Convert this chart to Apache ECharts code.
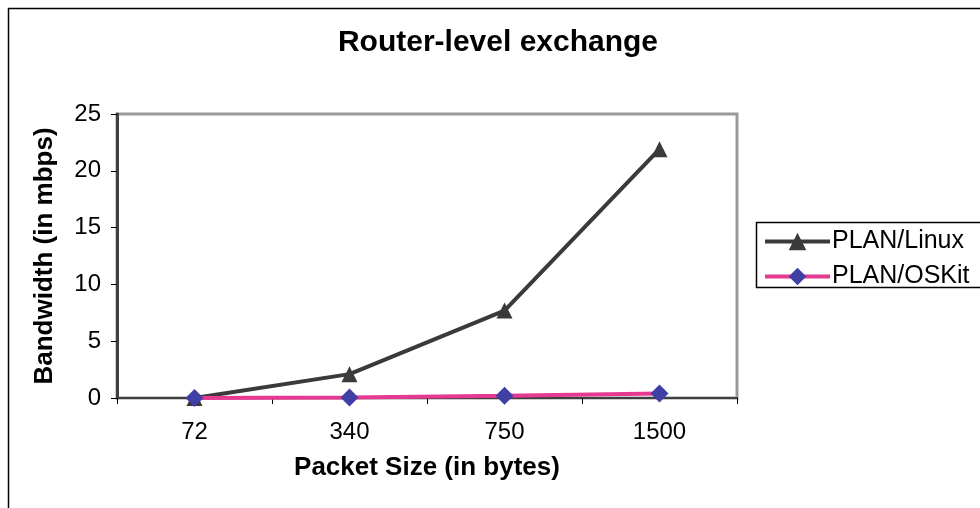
<!DOCTYPE html>
<html>
<head>
<meta charset="utf-8">
<script src="https://cdn.jsdelivr.net/npm/echarts@6/dist/echarts.min.js"></script>
<style>
  html, body { margin: 0; padding: 0; background: #fff; }
  #chart { width: 980px; height: 508px; }
</style>
</head>
<body>
<div id="chart"></div>
<script>
// Packet sizes (bytes) on the category axis
const packetSizes = ['72', '340', '750', '1500'];
// Measured bandwidth in mbps
const linuxBandwidth = [0, 2.1, 7.7, 21.9];
const oskitBandwidth = [0, 0.05, 0.2, 0.4];
// Value axis ticks
const yMin = 0, yMax = 25, yStep = 5;

const FONT = '"Liberation Sans", Arial, sans-serif';
const chart = echarts.init(document.getElementById('chart'), null, { renderer: 'canvas' });

chart.setOption({
  backgroundColor: '#fff',
  animation: false,
  title: {
    text: 'Router-level exchange',
    left: 493, top: 23, textAlign: 'center',
    textStyle: { fontFamily: FONT, fontSize: 30, fontWeight: 'bold', color: '#000' }
  },
  graphic: [
    { type: 'rect', shape: { x: 8.5, y: 8.5, width: 1000, height: 1000 },
      style: { fill: 'none', stroke: '#000', lineWidth: 1.5 }, z: 0 },
    { type: 'rect', shape: { x: 756.5, y: 222.5, width: 300, height: 65 },
      style: { fill: '#fff', stroke: '#000', lineWidth: 1.5 }, z: 1 }
  ],
  legend: {
    orient: 'vertical',
    left: 763, top: 229,
    padding: 0,
    itemWidth: 65, itemHeight: 22, itemGap: 10,
    z: 5,
    lineStyle: { width: 4 },
    textStyle: { fontFamily: FONT, fontSize: 25, color: '#000', padding: [0, 0, 0, -3] },
    data: ['PLAN/Linux', 'PLAN/OSKit']
  },
  grid: {
    left: 117, top: 114, right: 243, bottom: 110,
    show: true, borderColor: '#999', borderWidth: 3, backgroundColor: '#fff'
  },
  xAxis: {
    type: 'category',
    data: packetSizes,
    boundaryGap: true,
    name: 'Packet Size (in bytes)',
    nameLocation: 'middle', nameGap: 57,
    nameTextStyle: { fontFamily: FONT, fontSize: 26, fontWeight: 'bold', color: '#000' },
    axisLine: { lineStyle: { color: '#404040', width: 2 } },
    axisTick: { show: true, length: 6, lineStyle: { color: '#000', width: 1 } },
    axisLabel: { fontFamily: FONT, fontSize: 24, color: '#000', margin: 22 },
    splitLine: { show: false }
  },
  yAxis: {
    type: 'value',
    min: yMin, max: yMax, interval: yStep,
    name: 'Bandwidth (in mbps)',
    nameLocation: 'middle', nameGap: 59,
    nameTextStyle: { fontFamily: FONT, fontSize: 26, fontWeight: 'bold', color: '#000' },
    axisLine: { show: true, lineStyle: { color: '#404040', width: 3 } },
    axisTick: { show: true, length: 6, lineStyle: { color: '#000', width: 1 } },
    axisLabel: { fontFamily: FONT, fontSize: 24, color: '#000', margin: 16 },
    splitLine: { show: false }
  },
  series: [
    {
      name: 'PLAN/Linux',
      type: 'line',
      data: linuxBandwidth,
      symbol: 'triangle', symbolSize: 16,
      itemStyle: { color: '#3a3a3a' },
      lineStyle: { color: '#3a3a3a', width: 4 },
      z: 3
    },
    {
      name: 'PLAN/OSKit',
      type: 'line',
      data: oskitBandwidth,
      symbol: 'diamond', symbolSize: 18,
      itemStyle: { color: '#3f3fa6' },
      lineStyle: { color: '#e63a92', width: 4 },
      z: 4
    }
  ]
});
</script>
</body>
</html>
